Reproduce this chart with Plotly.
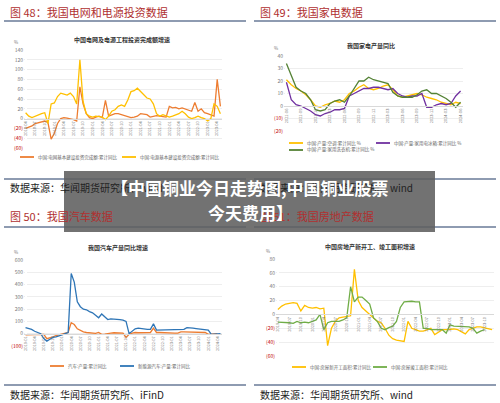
import pandas as pd
import plotly.graph_objects as go

W, H = 500, 403

# ---- data ----
grid_inv = [-20, -18, -15, -10, -8, -7, -5, -8, -42, -30, -10, 0, 2, 1, 0, -2, -5, 65, 30, 10, 2, 0, 3, 5,
            2, 37, 5, 8, 10, 10, 8, 5, 3, 2, 3, 5, 10, 9, 8, 3, 5, 6, 5, 4, 3, 25, 22, 23, 20, 22, 20, 18,
            15, 33, 15, 20, 12, 10, 8, 5, 80, 25]
power_inv = [12, 5, 2, 5, 8, 10, 12, -10, 30, 32, 45, 52, 50, 48, 52, 45, 30, 120, 35, 10, 5, 3, 5, 4,
             3, -2, 5, 15, 18, 25, 28, 25, 38, 55, 57, 62, 55, 50, 42, 40, 30, 10, 5, 8, 6, 3, 5, 8, 10,
             15, 10, 3, 0, 2, 5, 2, 0, -5, 0, 30, 25, 10]

aircon = [21, 17, 14, 12, 9, 5, 0, -1, 1, 2, 4, 3, 5, 10, 12, 15, 17, 14, 13, 14, 16, 17, 13, 8, 7, 8,
          9, 10, 9, 7, 6, 5, 3, 2, 1, 3, 2]
fridge = [19, 5, 1, 0, -2, -4, -7, -8, -6, -5, -3, -3, -2, 8, 10, 12, 14, 14, 15, 15, 14, 13, 14, 10,
          8, 7, 8, 8, 10, -1, -1, 1, 2, 1, 2, 8, 12]
washer = [34, 25, 15, 12, 10, 5, -3, -4, -3, 2, 4, 5, 3, 8, 14, 20, 20, 23, 21, 20, 19, 18, 11, 8, 7,
          7, 7, 9, 12, 13, 10, 10, 8, 6, 3, -1, 3]

car = [-10, -10, -10, -10, -10, -10, -5, -40, -35, -25, -15, -10, -5, 0, 10, 90, 75, 40, 25, 15, 10, 8,
       5, 3, 10, -5, -3, 3, 5, 8, 8, 5, 5, -30, -5, 5, 10, 8, 8, 8, 8, 10, 45, 10, 10, 8, 8, 5, 5, 5, 5,
       15, 15, 14, 13, 13, 12, 12, 11, 10, -5, -5, -3, 0]
nev = [50, 45, 35, 20, 10, 0, -40, -60, -45, -30, -25, -20, -10, 0, 10, 490, 420, 260, 220, 200, 195,
       180, 170, 150, 130, 160, 140, 115, 120, 120, 120, 115, 110, 100, 0, 20, 40, 45, 40, 35, 35, 35,
       80, 30, 30, 30, 30, 30, 30, 30, 35, 35, 35, 50, 50, 45, 42, 40, 38, 35, 30, -5, -5, -3, 0]

new_start = [7, 12, 15, 16, 17, 16, 5, 13, 10, 9, 10, 8, 9, -45, -20, -10, -5, -4, -3, -2, 65, 20, 10,
             5, 0, -5, -10, -12, -20, -30, -35, -37, -38, -39, -10, -20, -22, -24, -24, -22, -20, -29,
             -25, -22, -22, -21, -21, -22, -25, -28, -22, -20, -18, -18, -19, -21, -22]
completed = [-11, -11, -12, -12, -13, -10, -12, -11, -12, -10, -8, 0, -22, -12, -10, -10, -10, -8, -5,
             40, 18, 25, 25, 20, 15, -5, -10, -20, -22, -19, -17, -10, 10, 18, 19, 19, 18, 18, -20, -20,
             -22, -22, -22, -22, -27, -15, -17, -17, -17, -18, -18, -20, -27, -24, -22]

def months(start, n):
    return [d.strftime("%Y-%m") for d in pd.date_range(start, periods=n, freq="MS")]

def px(x):
    return x / W

def py(y):
    return 1 - y / H

RED = "#c00000"

def yticks(lo, hi, step):
    vals = list(range(lo, hi + 1, step))
    text = [f"<span style='color:{RED}'>({-v})</span>" if v < 0 else str(v) for v in vals]
    return vals, text

def note(text, x, y, size, color, anchor="center"):
    fig.add_annotation(x=px(x), y=py(y), xref="paper", yref="paper", xanchor=anchor,
                       yanchor="middle", text=text, showarrow=False,
                       font=dict(size=size, color=color, family="Noto Sans CJK SC"))

fig = go.Figure()
shapes = []

# legend entry positions (px): one (x, y) per series
panels = [
    dict(i=1, x=(24, 222), y=(50, 148), r=(-60, 140), s=20, start="2018-04",
         series=[("中国:电网基本建设投资完成额:累计同比", grid_inv, "#ed7d31"),
                 ("中国:电源基本建设投资完成额:累计同比", power_inv, "#ffc000")],
         leg=[(20, 157), (122, 157)], title="中国电网及电源工程投资完成额增速", ty=39, tx=122),
    dict(i=2, x=(284, 463), y=(56, 131), r=(-20, 40), s=10, start="2021-06",
         series=[("中国:产量:空调:累计同比 %", aircon, "#ffc000"),
                 ("中国:产量:家用电冰箱:累计同比 %", fridge, "#7030a0"),
                 ("中国:产量:家用洗衣机:累计同比 %", washer, "#548235")],
         leg=[(289, 143), (376, 143), (289, 150)], title="我国家电产量同比", ty=45, tx=371),
    dict(i=3, x=(24, 222), y=(260, 346), r=(-100, 600), s=100, start="2019-01",
         series=[("汽车:产量:累计同比", car, "#ed7d31"),
                 ("新能源汽车:产量:累计同比", nev, "#2e75b6")],
         leg=[(50, 366), (120, 366)], title="我国汽车产量同比增速", ty=247, tx=118),
    dict(i=4, x=(276, 494), y=(259, 356), r=(-60, 80), s=20, start="2019-04",
         series=[("中国:房屋新开工面积:累计同比", new_start, "#ffc000"),
                 ("中国:房屋竣工面积:累计同比", completed, "#70ad47")],
         leg=[(292, 367), (373, 367)], title="中国房地产新开工、竣工面积增速", ty=246, tx=370),
]

for p in panels:
    i = p["i"]
    xa, ya = f"x{i}", f"y{i}"
    n = max(len(s[1]) for s in p["series"])
    labels = months(p["start"], n)
    for (name, vals, col), (lx, ly) in zip(p["series"], p["leg"]):
        fig.add_trace(go.Scatter(
            x=list(range(len(vals))), y=vals, name=name, mode="lines", showlegend=False,
            line=dict(color=col, width=1.3), xaxis=xa, yaxis=ya))
        shapes.append(dict(type="line", xref="paper", yref="paper", x0=px(lx), x1=px(lx + 14),
                           y0=py(ly), y1=py(ly), line=dict(color=col, width=1.8)))
        note(name, lx + 16, ly, 4.5, "#666", "left")
    lo, hi = p["r"]
    yd = [py(p["y"][1]), py(p["y"][0])]
    zero = yd[0] + (yd[1] - yd[0]) * (0 - lo) / (hi - lo)
    tv, tt = yticks(lo, hi, p["s"])
    k = "" if i == 1 else str(i)
    fig.layout[f"xaxis{k}"] = dict(
        domain=[px(p["x"][0]), px(p["x"][1])], anchor="free", position=zero,
        range=[-0.5, n - 0.5], tickvals=list(range(0, n, 3)), ticktext=labels[::3],
        tickangle=-90, tickfont=dict(size=4, color="#777"), showgrid=False,
        showline=True, linecolor="#d9d9d9", ticks="", automargin=False)
    fig.layout[f"yaxis{k}"] = dict(
        domain=yd, anchor=xa, range=[lo, hi], tickvals=tv, ticktext=tt,
        tickfont=dict(size=5, color="#777"), gridcolor="#eeeeee", zeroline=False,
        showline=False, automargin=False)
    note(f"<b>{p['title']}</b>", p["tx"], p["ty"], 6, "#333")
    note("%", p["x"][0] - 8, p["y"][0] - 8, 4.5, "#777")

headers = [("图 48：我国电网和电源投资数据", 8, 12), ("图 49：我国家电数据", 258, 12),
           ("图 50：我国汽车数据", 8, 216), ("图 51：我国房地产数据", 258, 216)]
for text, x, y in headers:
    note(text, x, y, 11, "#b03030", "left")
sources = [("数据来源：华闻期货研究所、wind", 8, 187), ("数据来源：华闻期货研究所、wind", 258, 187),
           ("数据来源：华闻期货研究所、iFinD", 8, 394), ("数据来源：华闻期货研究所、wind", 258, 394)]
for text, x, y in sources:
    note(text, x, y, 10, "#222", "left")

for x0, x1 in [(4, 246), (254, 496)]:
    for y in (21, 227, 179, 385):
        shapes.append(dict(type="line", xref="paper", yref="paper", x0=px(x0), x1=px(x1),
                           y0=py(y), y1=py(y), line=dict(color="#1f3864", width=1.2)))
shapes.append(dict(type="rect", xref="paper", yref="paper", x0=px(64), x1=px(435),
                   y0=py(232), y1=py(171), fillcolor="rgba(95,95,95,0.88)", line=dict(width=0)))
fig.update_layout(shapes=shapes)
note("<b>【中国铜业今日走势图,中国铜业股票</b>", 250, 188, 17, "white")
note("<b>今天费用】</b>", 250, 212, 17, "white")

fig.update_layout(width=W, height=H, margin=dict(l=0, r=0, t=0, b=0, autoexpand=False),
                  paper_bgcolor="white", plot_bgcolor="white",
                  font=dict(family="Noto Sans CJK SC"))

fig.write_html("out.html", config={"displayModeBar": False},
               post_script="document.body.style.margin='0';")
